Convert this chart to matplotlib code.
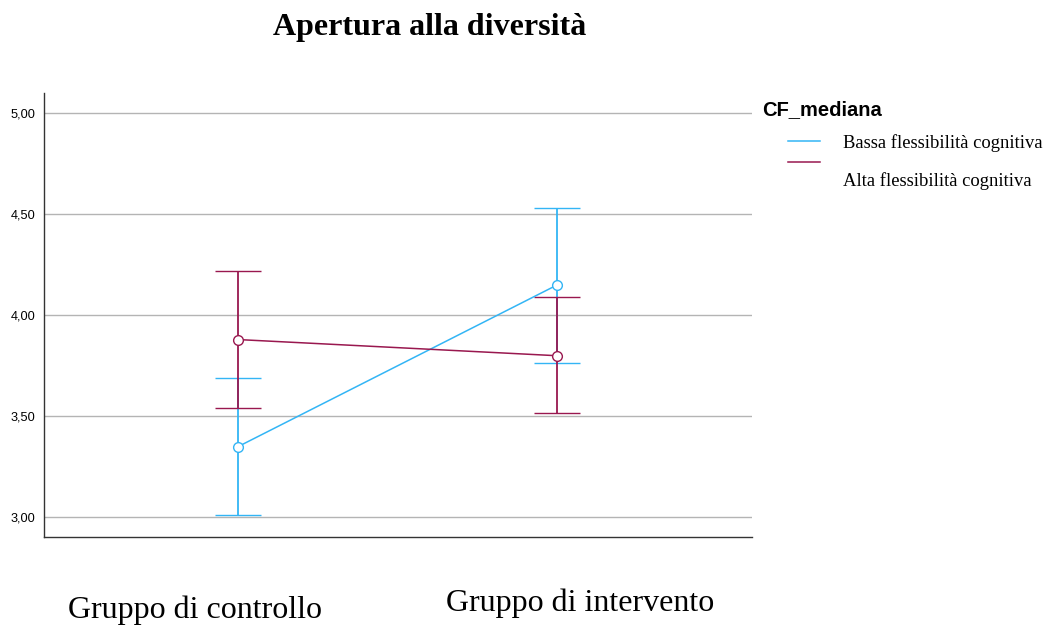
import numpy as np
import matplotlib.pyplot as plt
from matplotlib.lines import Line2D

groups = ["Gruppo di controllo", "Gruppo di intervento"]
series = ["Bassa flessibilità cognitiva", "Alta flessibilità cognitiva"]
means = {
    "Bassa flessibilità cognitiva": [3.35, 4.15],
    "Alta flessibilità cognitiva": [3.88, 3.80],
}
ci_low = {
    "Bassa flessibilità cognitiva": [3.01, 3.765],
    "Alta flessibilità cognitiva": [3.54, 3.515],
}
ci_high = {
    "Bassa flessibilità cognitiva": [3.69, 4.53],
    "Alta flessibilità cognitiva": [4.218, 4.092],
}
colors = {
    "Bassa flessibilità cognitiva": "#33b5f5",
    "Alta flessibilità cognitiva": "#99184f",
}
yticks = [3.0, 3.5, 4.0, 4.5, 5.0]

fig = plt.figure(figsize=(10.51, 6.27), dpi=100)
ax = fig.add_axes([44 / 1051, 1 - 537 / 627, 708 / 1051, 444 / 627])

x = np.arange(len(groups))
for name in series:
    m = np.array(means[name])
    lo = m - np.array(ci_low[name])
    hi = np.array(ci_high[name]) - m
    ax.errorbar(x, m, yerr=[lo, hi], color=colors[name], lw=1.1,
                elinewidth=1.3, capsize=16.5, capthick=1.8,
                marker="o", mfc="white", mec=colors[name], ms=7, mew=1.0,
                zorder=3)

ax.set_xlim(-0.608, 1.611)
ax.set_ylim(2.903, 5.10)
ax.set_yticks(yticks)
ax.set_yticklabels([f"{v:.2f}".replace(".", ",") for v in yticks],
                   fontfamily="Liberation Sans", fontsize=9.2)
ax.tick_params(axis="y", length=0, pad=6)
ax.set_xticks([])
ax.grid(axis="y", color="#b4b4b4", lw=1)
ax.set_axisbelow(True)
for s in ["top", "right"]:
    ax.spines[s].set_visible(False)
for s in ["left", "bottom"]:
    ax.spines[s].set_color("#333333")
    ax.spines[s].set_linewidth(1)

# group labels below the axis
fig.text(195 / 1051, 1 - 610 / 627, groups[0], ha="center", va="center",
         fontfamily="Liberation Serif", fontsize=23)
fig.text(580 / 1051, 1 - 603 / 627, groups[1], ha="center", va="center",
         fontfamily="Liberation Serif", fontsize=23)

fig.text(430 / 1051, 1 - 28 / 627, "Apertura alla diversità", ha="center",
         va="center", fontfamily="Liberation Serif", fontweight="bold",
         fontsize=23)

# legend
fig.text(762 / 1051, 1 - 110 / 627, "CF_mediana", ha="left", va="center",
         fontfamily="Liberation Sans", fontweight="bold", fontsize=14.5)
for name, ly, ty in zip(series, [141, 162], [143, 181]):
    fig.add_artist(Line2D([788 / 1051, 820 / 1051], [1 - ly / 627] * 2,
                          color=colors[name], lw=1.1))
    fig.text(843 / 1051, 1 - ty / 627, name, ha="left", va="center",
             fontfamily="Liberation Serif", fontsize=13.4)

fig.savefig("out.png", dpi=100)
